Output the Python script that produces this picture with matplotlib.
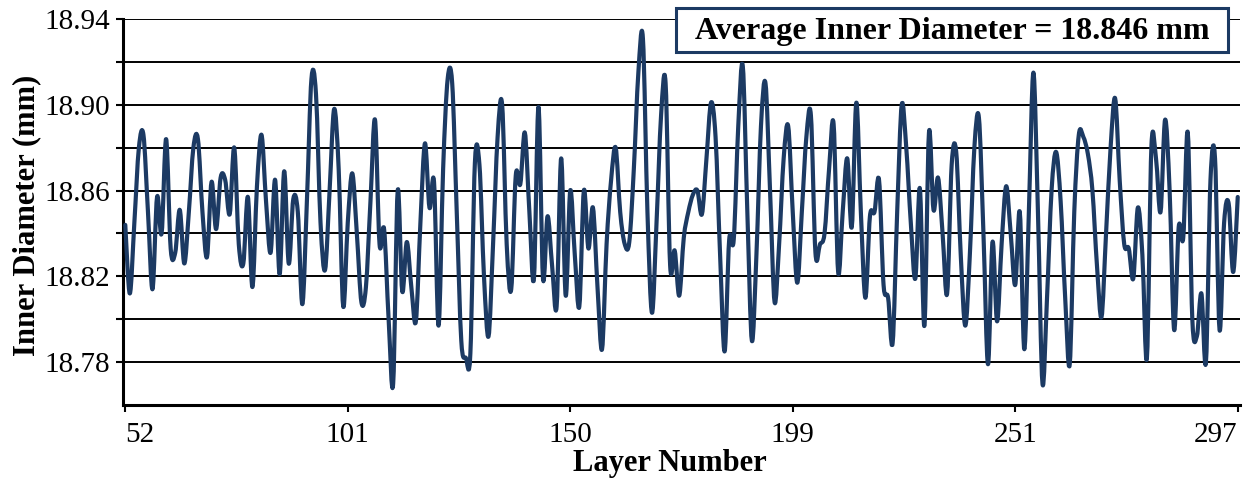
import numpy as np
import matplotlib
matplotlib.use("Agg")
import matplotlib.pyplot as plt
from matplotlib.path import Path
from matplotlib.patches import PathPatch, Rectangle

diameter = [
    18.844, 18.812, 18.845, 18.880, 18.886, 18.850, 18.814, 18.857, 18.840, 18.884,
    18.833, 18.831, 18.851, 18.826, 18.850, 18.880, 18.884, 18.850, 18.829, 18.864,
    18.842, 18.866, 18.865, 18.849, 18.880, 18.835, 18.826, 18.857, 18.815, 18.862,
    18.886, 18.855, 18.831, 18.865, 18.821, 18.869, 18.826, 18.856, 18.850, 18.807,
    18.855, 18.912, 18.905, 18.845, 18.823, 18.860, 18.898, 18.870, 18.806, 18.845,
    18.868, 18.840, 18.808, 18.815, 18.855, 18.893, 18.835, 18.842, 18.800, 18.770,
    18.860, 18.813, 18.836, 18.815, 18.799, 18.845, 18.882, 18.852, 18.864, 18.797,
    18.870, 18.912, 18.910, 18.850, 18.790, 18.782, 18.784, 18.873, 18.872, 18.820,
    18.792, 18.835, 18.885, 18.900, 18.835, 18.814, 18.867, 18.863, 18.887, 18.850,
    18.819, 18.899, 18.819, 18.848, 18.825, 18.806, 18.875, 18.811, 18.860, 18.830,
    18.806, 18.860, 18.833, 18.852, 18.815, 18.786, 18.835, 18.865, 18.880, 18.850,
    18.835, 18.836, 18.870, 18.915, 18.931, 18.850, 18.803, 18.845, 18.895, 18.910,
    18.825, 18.832, 18.811, 18.838, 18.850, 18.858, 18.860, 18.849, 18.875, 18.901,
    18.885, 18.830, 18.785, 18.837, 18.837, 18.890, 18.918, 18.850, 18.790, 18.830,
    18.890, 18.910, 18.860, 18.808, 18.835, 18.875, 18.890, 18.850, 18.817, 18.850,
    18.885, 18.895, 18.831, 18.835, 18.840, 18.870, 18.891, 18.822, 18.850, 18.875,
    18.843, 18.901, 18.850, 18.810, 18.848, 18.850, 18.865, 18.816, 18.810, 18.789,
    18.850, 18.900, 18.880, 18.845, 18.819, 18.861, 18.797, 18.887, 18.851, 18.866,
    18.840, 18.812, 18.872, 18.878, 18.830, 18.797, 18.830, 18.880, 18.894, 18.840,
    18.779, 18.836, 18.799, 18.835, 18.862, 18.840, 18.816, 18.850, 18.786, 18.850,
    18.915, 18.850, 18.770, 18.810, 18.860, 18.878, 18.855, 18.810, 18.779, 18.850,
    18.886, 18.885, 18.877, 18.860, 18.825, 18.801, 18.840, 18.880, 18.903, 18.865,
    18.835, 18.833, 18.819, 18.852, 18.830, 18.782, 18.881, 18.875, 18.850, 18.893,
    18.860, 18.795, 18.843, 18.838, 18.887, 18.800, 18.792, 18.812, 18.780, 18.865,
    18.875, 18.795, 18.845, 18.854, 18.822, 18.857,
]
# layer numbers shown on the category axis
layer_labels = ["52", "101", "150", "199", "251", "297"]
label_index = [0, 49, 98, 147, 196, 245]
y_ticks = [18.78, 18.80, 18.82, 18.84, 18.86, 18.88, 18.90, 18.92, 18.94]
y_labels = ["18.78", "", "18.82", "", "18.86", "", "18.90", "", "18.94"]
avg_text = "Average Inner Diameter = 18.846 mm"

navy = "#1c3a63"
plt.rcParams["font.family"] = ["Liberation Serif", "DejaVu Serif"]

fig = plt.figure(figsize=(12.47, 4.82), dpi=100)
ax = fig.add_axes([123 / 1247, 1 - 405 / 482, 1117 / 1247, 386 / 482])

# smoothed line like the spreadsheet one: catmull-rom segments as bezier curves
x = np.arange(len(diameter), dtype=float)
y = np.array(diameter)
px = np.concatenate([[x[0]], x, [x[-1]]])
py = np.concatenate([[y[0]], y, [y[-1]]])
verts = [(x[0], y[0])]
codes = [Path.MOVETO]
for k in range(1, len(px) - 2):
    c1 = (px[k] + (px[k + 1] - px[k - 1]) / 6, py[k] + (py[k + 1] - py[k - 1]) / 6)
    c2 = (px[k + 1] - (px[k + 2] - px[k]) / 6, py[k + 1] - (py[k + 2] - py[k]) / 6)
    verts += [c1, c2, (px[k + 1], py[k + 1])]
    codes += [Path.CURVE4] * 3
ax.add_patch(PathPatch(Path(verts, codes), fill=False, edgecolor=navy,
                       lw=3.0, joinstyle="round", capstyle="round", zorder=3))

# categories sit between tick marks, as in the source chart
ax.set_xlim(-0.5, len(diameter) - 0.5)
ax.set_ylim(18.76, 18.94)
ax.set_yticks(y_ticks)
ax.set_yticklabels(y_labels, fontsize=21)
ax.set_xticks(label_index)
ax.set_xticklabels(layer_labels, fontsize=21)
xt = ax.get_xticklabels()
xt[0].set_ha("left")
xt[-1].set_ha("right")
ax.yaxis.grid(True, color="black", lw=1.4)
ax.set_axisbelow(True)
ax.tick_params(axis="both", direction="out", length=5, width=1.5, color="black", pad=4)
ax.tick_params(axis="x", pad=7)
for s in ["top", "right"]:
    ax.spines[s].set_visible(False)
for s in ["left", "bottom"]:
    ax.spines[s].set_linewidth(2.2)

ax.set_ylabel("Inner Diameter (mm)", fontsize=22, fontweight="bold")
ax.yaxis.set_label_coords(-0.073, 0.49)
ax.set_xlabel("Layer Number", fontsize=22, fontweight="bold")
ax.xaxis.set_label_coords(0.49, -0.115)

# average annotation box
fig.add_artist(Rectangle((676 / 1247, 1 - 52 / 482), 552 / 1247, 44 / 482,
                         transform=fig.transFigure, facecolor="white",
                         edgecolor=navy, lw=2.2, zorder=5))
fig.text(952 / 1247, 1 - 31 / 482, avg_text, fontsize=23, fontweight="bold",
         ha="center", va="center", zorder=6)

fig.savefig("out.png", dpi=100)
